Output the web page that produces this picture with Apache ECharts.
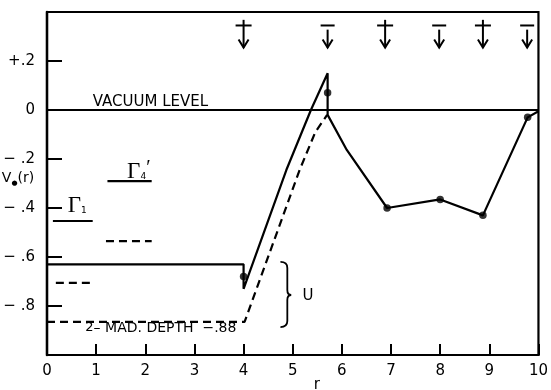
<!DOCTYPE html>
<html>
<head>
<meta charset="utf-8">
<script src="https://cdn.jsdelivr.net/npm/echarts@6/dist/echarts.min.js"></script>
<style>
  html, body { margin: 0; padding: 0; background: #fff; }
  #chart { width: 551px; height: 390px; }
</style>
</head>
<body>
<div id="chart"></div>
<script>
// ---- data ----
const xTicks = [0, 1, 2, 3, 4, 5, 6, 7, 8, 9, 10];
const yTickValues = [-0.8, -0.6, -0.4, -0.2, 0, 0.2];
const yTickLabels = ['\u2212 .8', '\u2212 .6', '\u2212 .4', '\u2212 .2', '0', '+.2'];

// solid potential curve V0(r)
const solidR = [0, 4.0, 4.0, 4.87, 5.37, 5.71, 5.71, 6.1, 6.92, 8.0, 8.87, 9.78, 10];
const solidV = [-0.63, -0.63, -0.73, -0.245, 0, 0.15, -0.02, -0.163, -0.40, -0.365, -0.43, -0.03, -0.005];

// dashed curve (well depth -.88)
const dashR = [0, 4.02, 5.14, 5.46, 5.7];
const dashV = [-0.865, -0.865, -0.245, -0.09, -0.02];

// vacuum level
const vacR = [0, 10];
const vacV = [0, 0];

// short level bars
const gamma1R = [0.12, 0.93];  const gamma1V = [-0.453, -0.453];
const gamma4R = [1.23, 2.13];  const gamma4V = [-0.29, -0.29];
const dashUpR = [1.2, 2.13];   const dashUpV = [-0.535, -0.535];
const dashLoR = [0.18, 0.97];  const dashLoV = [-0.706, -0.706];

// data points
const dotR = [4.0, 5.71, 6.92, 8.0, 8.87, 9.78];
const dotV = [-0.68, 0.07, -0.40, -0.365, -0.43, -0.03];

// spin arrows along the top
const arrowR = [4.0, 5.71, 6.88, 7.98, 8.87, 9.77];
const arrowSign = ['+', '\u2212', '+', '\u2212', '+', '\u2212'];

// brace marking U
const braceR = [4.75, 4.89, 4.97];   // curl ends, spine, tip
const braceV = [-0.62, -0.755, -0.886]; // top, middle, bottom

// text annotations
const noteText = ['VACUUM LEVEL', '{z|2}{m|\u2013 MAD. DEPTH  \u2212.88}', 'U', 'r', '{g|\u0393}{s|1}', '{g|\u0393}{s|4}{p|\u2032}', '{m|V}{d|\u25CF}{m|(r)}'];
const noteR = [0.93, 0.78, 5.31, 5.49, 0.42, 1.63, -0.26];
const noteV = [0.033, -0.89, -0.76, -1.122, -0.392, -0.253, -0.278];
const noteAlign = ['left', 'left', 'center', 'center', 'left', 'left', 'right'];

// ---- chart ----
const INK = '#000';
const FONT = 'DejaVu Sans';
const pairs = (rs, vs) => rs.map((r, i) => [r, vs[i]]);

function lineSeries(rs, vs, dashed) {
  return {
    type: 'line', data: pairs(rs, vs), symbol: 'none', silent: true,
    lineStyle: { color: INK, width: 2.2, type: dashed ? [8, 5] : 'solid' },
    z: 3
  };
}

const chart = echarts.init(document.getElementById('chart'), null, { renderer: 'canvas' });
chart.setOption({
  animation: false,
  backgroundColor: '#fff',
  grid: { left: 47, right: 7, top: 12, bottom: 35, show: true, borderColor: INK, borderWidth: 2.2, backgroundColor: 'transparent' },
  xAxis: {
    type: 'value', min: 0, max: 10, interval: 1,
    axisLine: { onZero: false, lineStyle: { color: INK, width: 2.2 } },
    axisTick: { inside: true, length: 11, lineStyle: { color: INK, width: 2 } },
    splitLine: { show: false },
    axisLabel: { color: INK, fontFamily: FONT, fontSize: 15, margin: 9, showMinLabel: true, showMaxLabel: true,
      formatter: v => { const i = xTicks.indexOf(Math.round(v)); return i >= 0 ? String(xTicks[i]) : ''; } }
  },
  yAxis: {
    type: 'value', min: -1.0, max: 0.4, interval: 0.2,
    axisLine: { onZero: false, lineStyle: { color: INK, width: 2.4 } },
    axisTick: { inside: true, length: 15, lineStyle: { color: INK, width: 2 } },
    splitLine: { show: false },
    axisLabel: { color: INK, fontFamily: FONT, fontSize: 15, margin: 12,
      formatter: v => {
        const i = yTickValues.findIndex(t => Math.abs(t - v) < 1e-6);
        return i >= 0 ? yTickLabels[i] : '';
      } }
  },
  series: [
    lineSeries(vacR, vacV, false),
    lineSeries(solidR, solidV, false),
    lineSeries(dashR, dashV, true),
    lineSeries(gamma1R, gamma1V, false),
    lineSeries(gamma4R, gamma4V, false),
    lineSeries(dashUpR, dashUpV, true),
    lineSeries(dashLoR, dashLoV, true),
    {
      type: 'scatter', data: pairs(dotR, dotV), symbol: 'circle', symbolSize: 7.5,
      itemStyle: { color: INK }, silent: true, z: 4
    },
    {
      type: 'custom', silent: true, z: 4,
      data: arrowR.map(r => [r, 0.3]),
      renderItem: (params, api) => {
        const r = api.value(0);
        const s = arrowSign[params.dataIndex];
        const x = api.coord([r, 0])[0];
        const y = v => api.coord([r, v])[1];
        const st = { stroke: INK, lineWidth: 2, fill: null };
        const half = s === '+' ? 8 : 7;
        const barY = y(0.345);
        const stemTop = s === '+' ? y(0.368) : y(0.328);
        const tip = y(0.255);
        return {
          type: 'group',
          children: [
            { type: 'line', shape: { x1: x - half, y1: barY, x2: x + half, y2: barY }, style: st },
            { type: 'line', shape: { x1: x, y1: stemTop, x2: x, y2: tip }, style: st },
            { type: 'polyline', shape: { points: [[x - 5, tip - 8], [x, tip], [x + 5, tip - 8]] }, style: st }
          ]
        };
      }
    },
    {
      type: 'custom', silent: true, z: 4,
      data: [[braceR[1], braceV[1]]],
      renderItem: (params, api) => {
        const x0 = api.coord([braceR[0], 0])[0];
        const xs = api.coord([braceR[1], 0])[0];
        const xt = api.coord([braceR[2], 0])[0];
        const yT = api.coord([0, braceV[0]])[1];
        const yM = api.coord([0, braceV[1]])[1];
        const yB = api.coord([0, braceV[2]])[1];
        const d = `M${x0},${yT} Q${xs},${yT} ${xs},${yT + 6} L${xs},${yM - 5} Q${xs},${yM} ${xt},${yM} Q${xs},${yM} ${xs},${yM + 5} L${xs},${yB - 6} Q${xs},${yB} ${x0},${yB}`;
        return { type: 'path', shape: { pathData: d }, style: { stroke: INK, lineWidth: 1.8, fill: null } };
      }
    },
    {
      type: 'custom', silent: true, z: 5,
      data: noteR.map((r, i) => [r, noteV[i]]),
      renderItem: (params, api) => {
        const i = params.dataIndex;
        const p = api.coord([api.value(0), api.value(1)]);
        return {
          type: 'text', x: p[0], y: p[1],
          style: {
            text: noteText[i], fill: INK, align: noteAlign[i], verticalAlign: 'middle',
            fontFamily: FONT, fontSize: 15,
            rich: {
              m: { fontFamily: FONT, fontSize: 14, fill: INK },
              z: { fontFamily: FONT, fontSize: 13, fill: INK },
              g: { fontFamily: 'Liberation Serif', fontSize: 23, fill: INK },
              s: { fontFamily: FONT, fontSize: 9, fill: INK, padding: [9, 0, 0, 0] },
              p: { fontFamily: 'Liberation Serif', fontSize: 20, fill: INK, padding: [0, 0, 6, 0] },
              d: { fontFamily: FONT, fontSize: 7, fill: INK, padding: [10, 0, 0, 0] }
            }
          }
        };
      }
    }
  ]
});
</script>
</body>
</html>
